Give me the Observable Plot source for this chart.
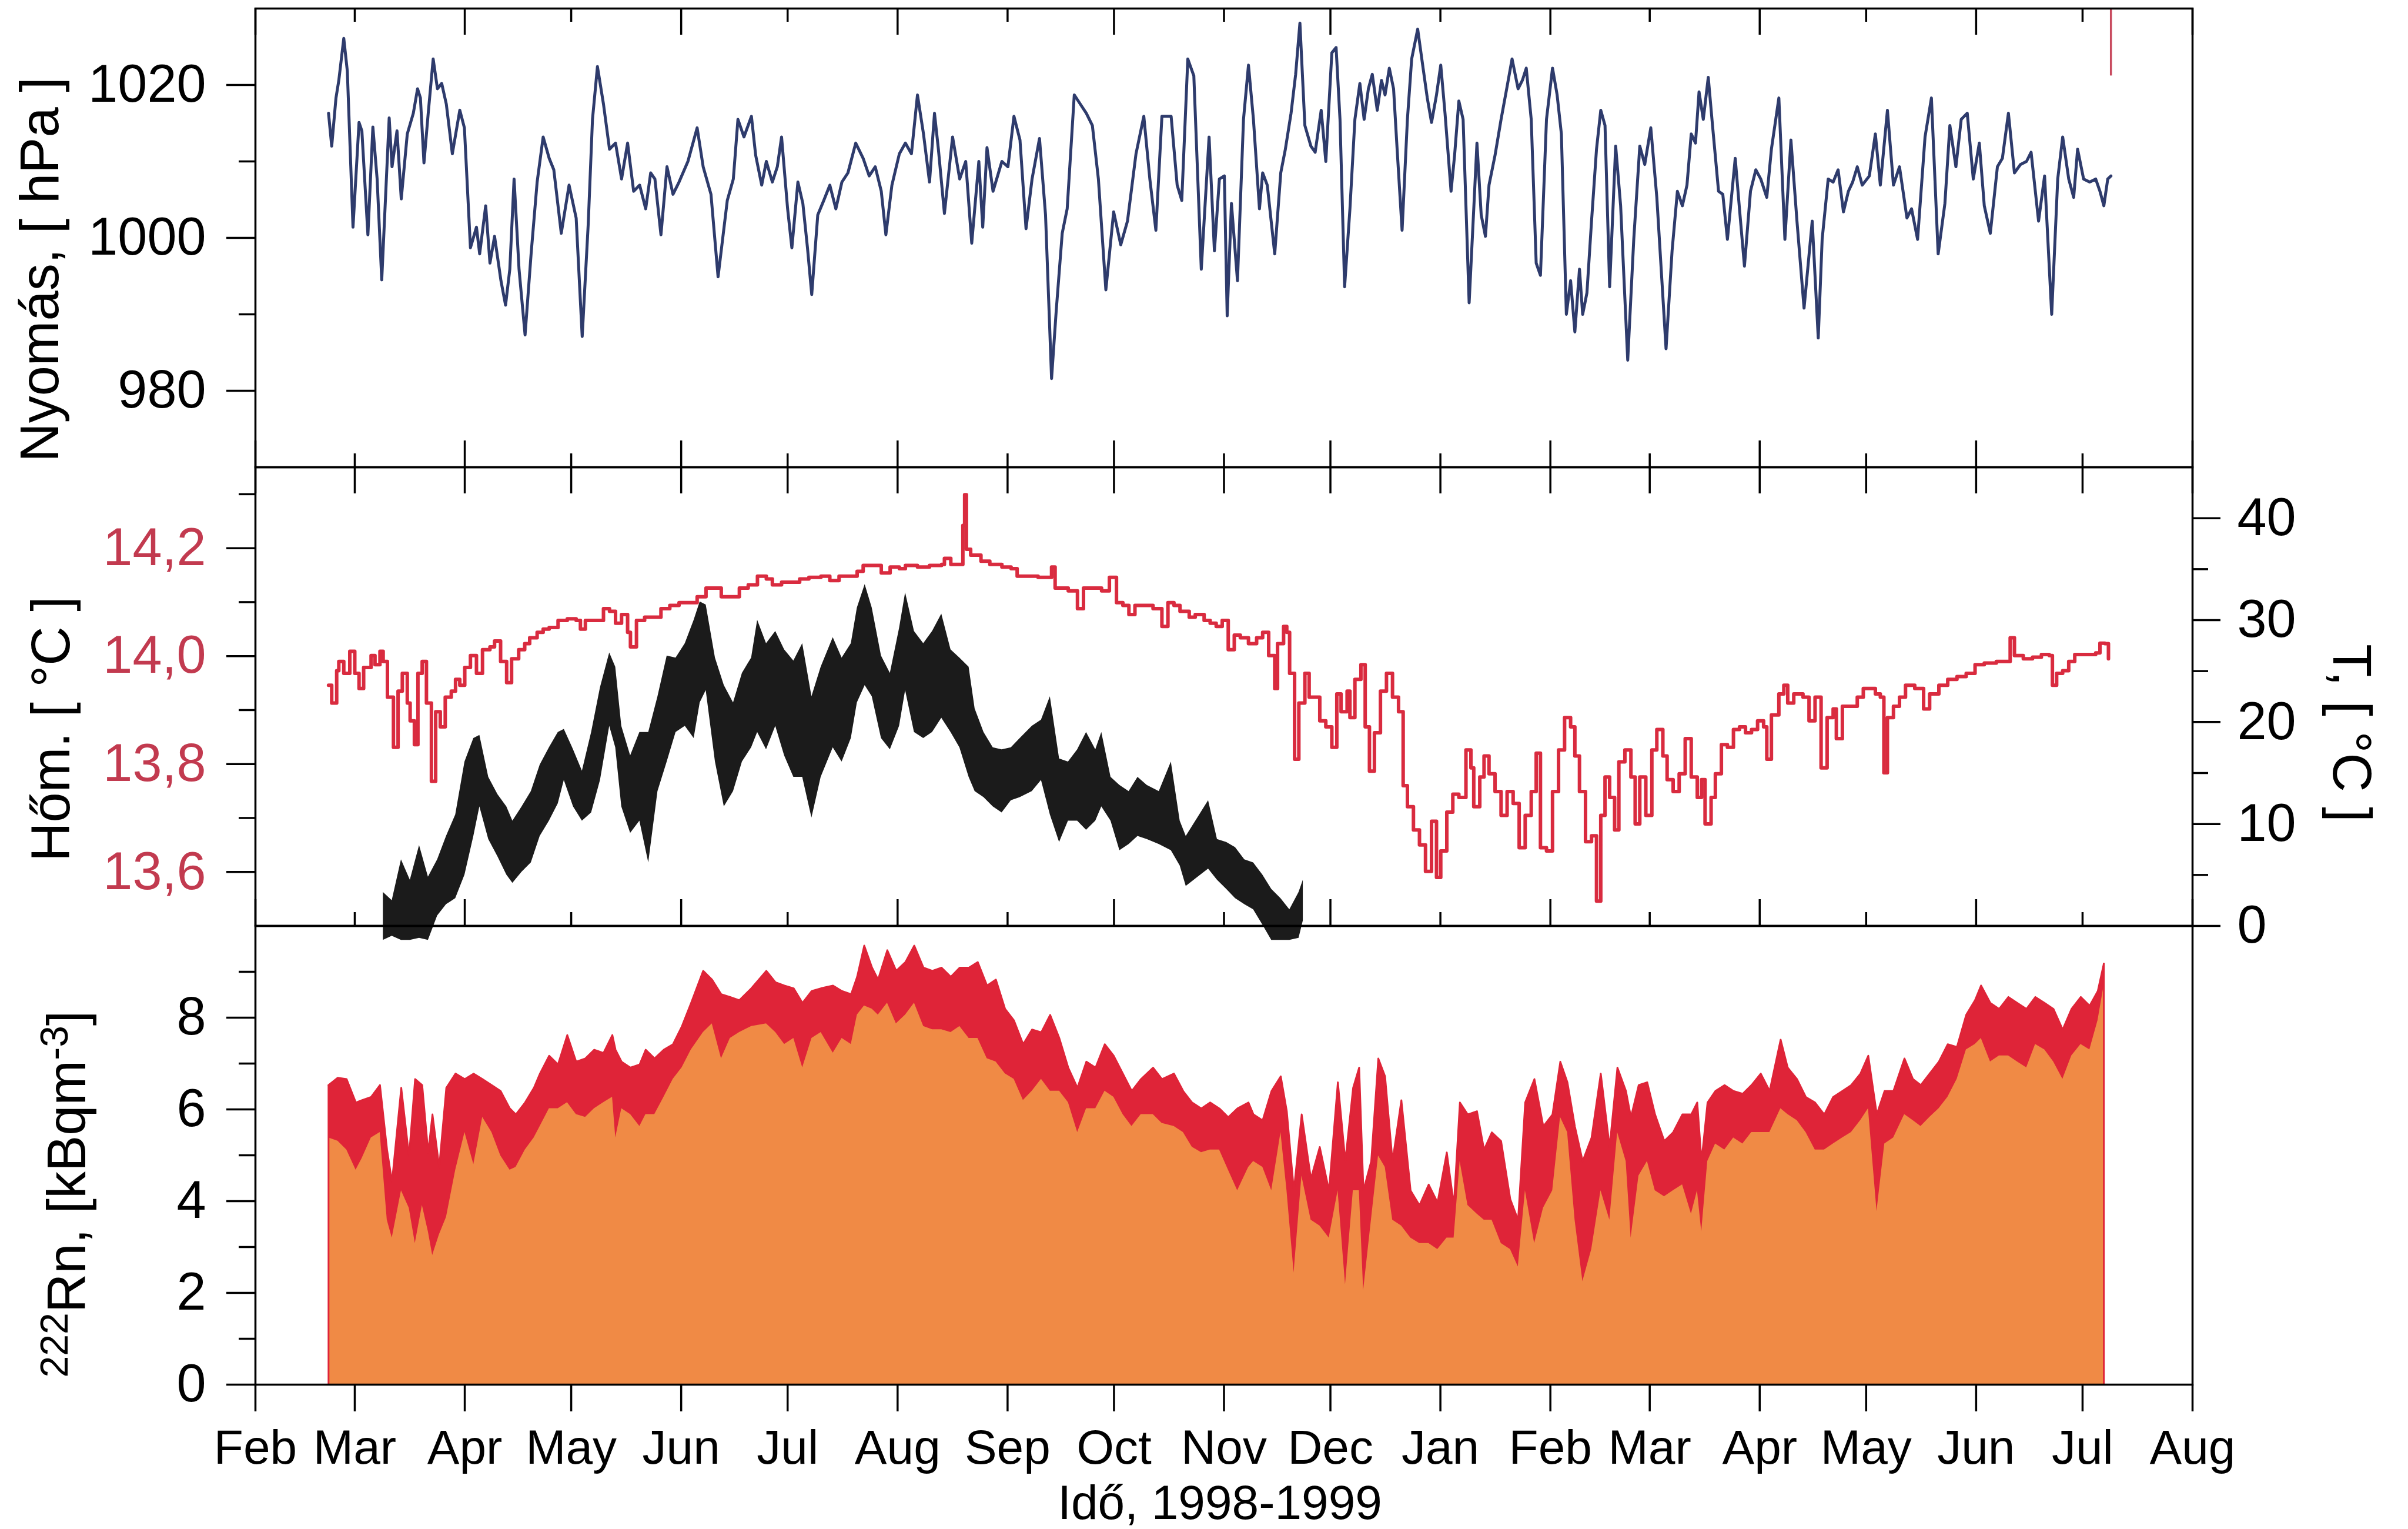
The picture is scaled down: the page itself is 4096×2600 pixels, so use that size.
<!DOCTYPE html>
<html><head><meta charset="utf-8">
<script src="https://cdn.jsdelivr.net/npm/d3@7"></script>
<script src="https://cdn.jsdelivr.net/npm/@observablehq/plot@0.6"></script>
<style>
html,body{margin:0;padding:0;background:#fff;}
#chart{position:relative;width:4096px;height:2600px;overflow:hidden;}
#chart svg{position:absolute;left:0;overflow:visible;}
</style></head><body><div id="chart"></div>
<script>
// ---- time base: day offsets from 1 Feb 1998 ----
const startDate = Date.UTC(1998, 1, 1);
const xStart = new Date(Date.UTC(1998, 1, 1));
const xEnd = new Date(Date.UTC(1999, 7, 1));

// ---- Pressure (Nyomás, hPa) ----
const presDay = [20.6,21.5,22.7,23.5,24.9,25.9,27.5,29.2,30.0,31.7,33.1,34.3,35.6,37.7,38.5,39.9,41.1,42.8,44.5,45.7,46.5,47.5,48.7,50.1,51.3,52.5,53.8,55.5,57.6,58.9,60.6,62.3,63.2,64.9,66.1,67.4,69.2,70.5,71.7,72.9,74.3,76.0,77.7,79.4,81.1,82.8,84.1,86.2,88.4,90.4,92.1,93.8,95.0,96.4,98.1,99.8,101.5,103.2,104.9,106.6,108.3,110.0,111.4,112.6,114.3,116.0,117.7,119.4,121.9,124.5,126.2,128.4,130.4,133.0,134.7,136.0,137.7,139.8,141.0,142.7,144.0,145.7,147.1,148.3,150.0,151.2,152.9,154.3,155.6,156.8,158.5,160.2,161.9,163.6,165.3,167.0,169.2,171.3,173.0,174.7,176.4,177.7,179.4,181.5,183.2,184.9,186.6,188.3,190.0,191.4,192.5,194.2,196.5,198.5,200.2,201.9,203.9,205.0,206.2,207.9,210.4,212.1,213.8,215.5,217.2,218.9,221.0,222.7,224.4,225.7,227.4,228.8,230.8,232.5,234.2,235.9,237.6,239.7,241.9,243.9,245.8,248.2,250.4,252.1,253.8,255.5,258.1,259.8,261.1,262.8,264.5,266.6,268.8,270.3,271.7,273.1,273.9,275.1,276.8,278.5,279.9,
281.3,283.0,283.9,285.2,287.3,289.0,290.3,291.9,293.2,294.4,295.8,297.5,298.7,300.4,301.7,303.4,304.6,305.7,307.0,308.5,309.9,311.3,312.5,313.7,314.8,316.2,317.4,318.4,319.6,320.8,321.8,323.2,324.7,325.9,327.6,329.0,330.3,331.5,332.9,334.1,335.3,337.0,338.0,339.2,340.4,342.1,343.4,344.3,345.5,346.7,347.7,349.4,351.1,352.8,354.2,355.9,357.1,358.2,359.6,361.0,362.2,363.9,365.6,366.9,368.1,369.5,370.7,371.9,373.2,374.1,375.3,376.6,378.0,379.2,380.4,381.7,383.4,384.8,386.8,388.5,390.2,391.6,393.3,395.0,397.6,399.3,400.8,402.2,403.5,404.7,405.9,406.9,408.1,409.5,410.7,412.4,413.6,414.9,417.1,418.3,419.7,421.4,422.9,424.3,426.0,427.3,429.4,431.1,432.8,434.5,436.5,438.8,440.5,441.6,443.3,444.7,446.1,447.6,449.0,450.2,451.5,452.9,454.9,456.6,458.0,460.0,461.7,463.4,465.5,466.8,468.5,470.6,472.4,474.3,476.2,477.6,479.3,480.8,482.5,484.2,485.9,487.3,489.0,491.0,492.4,494.1,495.8,497.5,499.2,500.5,502.6,504.3,506.3,508.0,509.4,511.1,512.5,513.6,515.3,517.0,518.7,519.9,521.0,522.1,523.0];
const presVal = [1016.3,1012.0,1018.3,1020.6,1026.1,1021.8,1001.4,1015.1,1014.0,1000.4,1014.5,1007.7,994.5,1015.7,1009.3,1014.0,1005.1,1013.6,1016.3,1019.5,1018.3,1009.8,1016.3,1023.4,1019.5,1020.2,1017.5,1011.0,1016.7,1014.4,998.7,1001.4,997.9,1004.2,996.7,1000.2,994.4,991.2,995.9,1007.7,995.9,987.3,997.9,1007.3,1013.2,1010.4,1008.9,1000.6,1006.9,1002.6,987.1,1001.8,1015.5,1022.4,1017.5,1011.6,1012.4,1007.7,1012.4,1006.1,1006.9,1003.8,1008.5,1007.7,1000.4,1009.3,1005.7,1007.3,1010.0,1014.4,1009.3,1005.7,994.9,1004.9,1007.7,1015.5,1013.2,1015.9,1010.8,1006.9,1010.0,1007.3,1009.3,1013.2,1003.8,998.7,1007.3,1004.5,998.7,992.6,1003.0,1004.9,1006.9,1003.8,1007.3,1008.5,1012.4,1010.4,1008.1,1009.3,1006.1,1000.4,1006.9,1011.0,1012.4,1011.0,1018.7,1013.6,1007.3,1016.3,1011.6,1003.2,1013.2,1007.7,1010.0,999.3,1010.0,1001.4,1011.8,1006.1,1010.0,1009.3,1015.9,1012.8,1001.2,1007.7,1013.0,1003.0,981.6,990.4,1000.6,1003.8,1018.7,1017.5,1016.3,1014.7,1007.7,993.2,1003.4,999.1,1002.2,1011.0,1015.9,1007.7,1001.0,1015.9,1015.9,1006.9,1004.9,1023.4,1021.2,995.9,1013.2,998.3,1007.7,1008.1,989.8,1004.5,994.4,1015.5,1022.6,
1015.5,1003.8,1008.5,1006.9,997.9,1008.5,1011.6,1016.3,1021.4,1028.1,1014.7,1012.0,1011.2,1016.7,1010.0,1024.2,1024.9,1015.5,993.6,1003.8,1015.5,1020.2,1015.5,1019.5,1021.4,1016.7,1020.6,1018.7,1022.2,1019.5,1011.6,1001.0,1015.5,1023.4,1027.3,1022.6,1018.3,1015.1,1018.7,1022.6,1016.3,1006.1,1010.8,1017.9,1015.5,991.5,1003.8,1012.4,1003.0,1000.2,1006.9,1010.8,1015.5,1019.8,1023.4,1019.5,1020.6,1022.2,1015.5,996.7,995.1,1015.5,1022.2,1018.7,1013.6,990.0,994.4,987.7,995.9,990.0,992.8,1002.2,1011.6,1016.7,1014.7,993.6,1012.0,1004.2,984.0,999.8,1012.0,1009.6,1014.4,1005.3,985.5,998.3,1006.1,1004.2,1006.9,1013.6,1012.4,1019.1,1015.5,1021.0,1014.7,1006.1,1005.7,999.8,1010.4,1003.8,996.3,1006.1,1008.9,1007.7,1005.3,1011.6,1018.3,999.8,1012.8,1002.2,990.8,1002.2,986.9,999.8,1007.7,1007.3,1008.9,1003.4,1006.1,1007.3,1009.3,1006.9,1008.1,1013.6,1006.9,1016.7,1006.9,1009.3,1002.6,1003.8,999.8,1013.2,1018.3,997.9,1004.5,1014.7,1009.3,1015.5,1016.3,1007.7,1012.4,1004.2,1000.6,1009.3,1010.4,1016.3,1008.5,1009.6,1010.0,1011.2,1002.2,1008.1,990.0,1007.7,1013.2,1007.7,1005.3,1011.6,1007.7,1007.3,1007.7,1006.1,1004.2,1007.7,1008.1];
// short red trace at the top right of the pressure panel
const redSpikeDay = [523.0];
const redSpikeLow = [1021.2];
const redSpikeHigh = [1030];

// ---- Hőm. (left axis, °C) ----
const homDay = [20.6,21.5,22.9,23.5,24.9,26.6,28.0,29.2,30.5,32.6,33.7,35.1,36.0,37.2,38.9,40.2,41.4,42.8,43.6,44.8,45.8,47.0,48.2,49.6,50.8,52.1,53.5,55.2,56.4,57.6,59.0,60.6,62.3,64.0,66.1,67.4,69.1,70.8,72.2,74.2,75.9,77.3,79.4,81.1,82.8,85.3,87.9,90.4,91.6,93.0,95.5,98.1,99.8,101.5,103.2,104.9,105.7,107.4,109.7,111.7,114.3,116.8,119.4,121.9,124.5,127.0,129.6,131.3,133.8,136.4,138.9,141.5,144.0,145.7,148.3,150.8,153.4,156.0,159.4,161.9,164.5,167.0,169.6,171.3,174.7,176.4,178.9,181.5,183.2,186.6,190.0,193.4,194.2,196.0,198.5,199.4,199.9,200.4,201.6,202.8,204.5,207.0,210.4,213.0,214.7,217.2,220.6,223.7,224.4,225.4,227.1,229.1,231.7,233.4,236.0,238.5,240.7,242.7,244.5,246.2,247.9,250.4,253.0,255.5,257.2,258.9,260.6,263.2,264.9,267.4,269.1,270.8,272.5,274.2,275.9,277.6,279.9,
282.2,283.9,285.6,287.3,288.1,289.8,290.7,291.5,292.9,294.1,295.8,297.0,298.3,300.0,301.7,303.4,304.8,306.0,307.7,308.5,309.9,311.6,312.8,314.0,315.4,317.1,318.8,320.5,322.2,323.5,324.7,326.4,328.1,329.8,331.5,332.9,334.1,335.8,337.5,339.2,341.2,342.6,343.4,345.1,346.3,347.7,349.4,351.1,352.8,354.5,356.2,357.9,359.6,361.0,362.2,363.9,365.6,367.3,369.0,370.7,371.9,373.2,374.9,376.6,378.0,379.2,380.4,381.7,383.1,384.3,386.0,387.7,388.9,390.2,391.9,393.6,395.0,396.7,397.9,399.6,401.3,403.0,404.7,406.4,407.6,408.6,410.3,411.5,413.2,414.9,416.6,418.3,420.0,421.7,423.4,425.1,426.0,427.3,429.4,430.8,431.9,433.6,436.2,437.9,439.6,441.3,443.0,444.7,445.6,447.3,449.8,451.5,453.2,454.9,456.6,458.0,459.0,460.0,461.7,463.4,465.1,467.7,470.2,471.9,474.5,477.0,479.6,482.2,484.7,487.3,490.7,493.2,494.6,495.8,498.3,500.9,503.4,505.6,506.5,507.7,509.4,511.1,512.8,516.2,518.7,519.9,521.3,522.3];
const homVal = [13.946,13.913,13.973,13.990,13.968,14.009,13.968,13.940,13.979,14.001,13.984,14.009,13.990,13.924,13.831,13.935,13.968,13.913,13.880,13.836,13.968,13.990,13.913,13.768,13.897,13.869,13.924,13.935,13.957,13.946,13.979,14.001,13.968,14.012,14.017,14.028,13.990,13.951,13.995,14.012,14.023,14.034,14.044,14.050,14.053,14.066,14.069,14.066,14.050,14.066,14.066,14.088,14.083,14.061,14.077,14.044,14.017,14.066,14.072,14.072,14.088,14.094,14.099,14.099,14.110,14.126,14.126,14.110,14.110,14.126,14.132,14.148,14.143,14.132,14.137,14.137,14.143,14.146,14.148,14.140,14.148,14.148,14.157,14.168,14.168,14.154,14.165,14.162,14.168,14.165,14.168,14.170,14.181,14.170,14.170,14.242,14.299,14.198,14.187,14.187,14.176,14.170,14.165,14.162,14.148,14.148,14.146,14.146,14.165,14.126,14.126,14.121,14.088,14.126,14.126,14.121,14.146,14.099,14.094,14.077,14.094,14.094,14.088,14.055,14.099,14.094,14.083,14.072,14.077,14.066,14.061,14.055,14.066,14.012,14.039,14.034,14.023,
14.034,14.044,14.001,13.940,14.023,14.055,14.044,13.968,13.809,13.913,13.968,13.924,13.924,13.880,13.869,13.831,13.930,13.897,13.935,13.886,13.957,13.984,13.869,13.787,13.858,13.935,13.968,13.924,13.897,13.760,13.721,13.678,13.650,13.601,13.694,13.590,13.639,13.711,13.744,13.738,13.826,13.793,13.721,13.776,13.815,13.782,13.749,13.705,13.749,13.727,13.645,13.705,13.749,13.820,13.645,13.639,13.749,13.826,13.886,13.869,13.815,13.749,13.656,13.667,13.546,13.705,13.776,13.738,13.678,13.804,13.826,13.776,13.689,13.776,13.705,13.826,13.864,13.815,13.771,13.749,13.782,13.847,13.776,13.738,13.771,13.689,13.738,13.782,13.836,13.831,13.864,13.869,13.858,13.864,13.880,13.869,13.809,13.891,13.930,13.946,13.913,13.930,13.924,13.880,13.924,13.793,13.886,13.902,13.847,13.907,13.907,13.924,13.940,13.940,13.930,13.924,13.784,13.886,13.907,13.924,13.946,13.940,13.902,13.930,13.946,13.957,13.962,13.968,13.984,13.987,13.990,13.990,14.034,14.001,13.995,13.998,14.003,14.001,13.946,13.968,13.973,13.990,14.003,14.003,14.006,14.024,14.023,13.995];

// ---- T (right axis, °C): daily low / high envelope of the black trace ----
const tDay = [36.0,38.5,41.1,43.6,46.2,48.7,51.3,53.8,56.4,59.0,61.5,63.2,65.7,68.3,70.8,72.5,75.1,77.7,80.2,82.8,85.3,87.0,89.6,92.1,94.7,97.2,99.8,101.5,103.2,105.7,108.3,110.8,113.4,116.0,118.5,121.1,123.6,125.3,127.0,129.6,132.1,134.7,137.2,139.8,141.5,144.0,146.6,149.1,151.7,154.2,156.8,159.4,162.8,165.3,167.9,169.6,171.8,173.8,176.4,178.9,181.5,183.2,185.7,188.3,190.8,193.4,196.0,198.5,201.1,202.8,205.3,207.9,210.4,213.0,215.5,218.9,221.5,224.0,226.6,229.1,231.7,234.2,236.8,238.5,241.1,243.6,246.2,248.7,251.3,254.7,258.1,260.6,262.3,268.6,271.1,273.7,276.2,278.8,281.3,283.9,286.4,289.0,291.5,294.1,295.3];
const tHigh = [3.3,2.5,6.5,4.5,7.9,4.8,6.5,8.8,10.9,16.1,18.4,18.7,14.6,12.9,11.7,10.3,11.7,13.2,15.8,17.5,19.0,19.3,17.3,15.2,19.0,23.4,26.8,25.4,19.6,16.7,19.0,19.0,22.5,26.5,26.3,27.7,30.0,31.8,31.5,26.3,23.6,21.9,24.8,26.3,30.0,27.7,28.9,27.1,26.0,27.7,22.5,25.4,28.3,26.3,27.7,31.2,33.5,31.2,26.5,24.8,29.2,32.7,28.9,27.7,28.9,30.6,27.1,26.3,25.4,21.3,19.0,17.5,17.3,17.5,18.4,19.6,20.2,22.5,16.4,16.1,17.3,19.0,17.3,19.0,14.6,13.8,13.2,14.6,13.8,13.2,16.1,10.3,8.8,12.3,8.5,8.2,7.7,6.5,6.2,5.0,3.6,2.7,1.6,3.3,4.5];
const tLow = [-1.4,-1.0,-1.4,-1.4,-1.2,-1.4,1.0,2.1,2.7,5.0,8.8,11.7,8.5,6.8,5.0,4.2,5.3,6.2,8.8,10.3,12.0,14.3,11.7,10.3,11.1,14.3,19.6,17.5,11.7,9.1,10.3,6.2,13.2,16.1,19.0,19.6,18.4,21.9,23.1,16.1,11.7,13.2,16.1,17.5,19.0,17.3,19.6,16.7,14.6,14.6,10.6,14.6,17.5,16.1,18.4,21.9,23.6,22.5,18.4,17.3,19.6,23.1,19.0,18.4,19.0,20.4,19.0,17.5,14.6,13.2,12.6,11.7,11.1,12.3,12.6,13.2,14.3,10.9,8.2,10.3,10.3,9.4,10.3,11.7,10.3,7.4,8.0,8.8,8.5,8.0,7.4,5.9,3.9,5.6,4.5,3.6,2.7,2.1,1.6,0.1,-1.4,-1.4,-1.4,-1.2,0.5];

// ---- 222Rn (kBq m-3): low / high envelope of the red trace ----
const rnDay = [20.6,23.2,25.7,28.3,30.0,32.6,35.1,37.1,38.5,41.1,43.3,45.0,47.0,48.7,49.9,51.8,53.8,56.4,59.0,61.5,64.0,66.6,69.1,71.7,73.4,76.0,78.5,80.2,82.8,85.3,87.9,90.4,93.0,95.5,98.1,100.6,101.5,103.2,105.7,108.3,110.0,112.5,115.1,117.7,120.2,122.8,126.2,128.7,131.3,133.8,136.4,139.8,144.0,146.6,149.1,151.7,154.2,156.8,159.4,162.8,165.3,167.9,169.6,171.6,173.8,175.5,178.1,180.6,183.2,185.7,188.3,190.8,193.4,196.0,198.5,201.1,203.6,206.2,208.7,211.3,213.8,216.4,218.9,221.5,224.0,226.6,229.1,231.7,234.2,236.8,239.4,241.9,244.5,247.0,249.6,253.0,255.5,258.9,261.5,264.0,266.6,269.1,271.7,274.2,276.8,279.9,
281.3,283.9,286.4,289.0,290.7,292.7,294.9,297.5,300.0,302.6,305.1,307.2,309.4,311.1,312.3,314.5,316.5,318.4,320.5,323.0,325.6,328.1,330.7,333.2,335.8,337.8,339.5,341.7,344.3,346.3,348.5,351.1,353.7,355.9,357.9,360.5,363.0,365.6,367.8,369.8,371.9,374.1,376.6,379.2,381.7,383.9,386.3,387.7,389.9,392.3,394.5,397.1,399.6,402.2,404.7,406.4,407.6,409.3,411.5,414.1,416.6,419.2,421.7,424.3,426.8,429.9,431.9,434.5,437.0,439.6,442.2,444.7,447.3,449.8,452.4,454.6,457.0,459.2,461.7,464.8,467.2,469.4,471.9,474.5,477.0,479.6,482.2,484.7,486.4,489.0,491.5,494.1,496.6,499.2,501.7,504.3,506.8,509.4,511.9,514.5,517.0,519.3,521.0];
const rnHigh = [6.53,6.69,6.66,6.15,6.2,6.27,6.53,5.12,4.42,6.47,4.98,6.66,6.53,5.06,5.89,4.74,6.47,6.78,6.66,6.78,6.66,6.53,6.4,6.02,5.89,6.15,6.47,6.78,7.17,6.98,7.62,7.04,7.11,7.3,7.23,7.62,7.3,7.04,6.91,6.98,7.3,7.11,7.3,7.42,7.81,8.32,9.02,8.83,8.51,8.45,8.38,8.64,9.02,8.77,8.7,8.64,8.32,8.58,8.64,8.7,8.58,8.51,8.89,9.57,9.09,8.83,9.47,9.02,9.21,9.57,9.09,9.02,9.09,8.89,9.09,9.09,9.21,8.7,8.83,8.19,7.94,7.42,7.74,7.68,8.06,7.55,6.91,6.47,7.04,6.91,7.42,7.17,6.78,6.4,6.66,6.91,6.66,6.78,6.4,6.15,6.02,6.15,6.02,5.83,6.02,6.15,
5.89,5.76,6.4,6.72,5.96,4.23,5.89,4.49,5.18,4.23,6.59,4.87,6.47,6.91,4.23,4.87,7.11,6.72,4.87,6.2,4.23,3.91,4.36,3.97,5.06,3.91,6.15,5.89,5.96,5.12,5.5,5.31,4.04,3.59,6.15,6.66,5.63,5.89,7.04,6.59,5.63,4.87,5.38,6.78,5.18,6.91,6.4,5.83,6.53,6.59,5.89,5.31,5.5,5.89,5.89,6.15,4.87,6.15,6.4,6.53,6.4,6.34,6.53,6.78,6.4,7.52,6.91,6.66,6.27,6.15,5.89,6.27,6.4,6.53,6.78,7.17,5.89,6.4,6.4,7.11,6.66,6.53,6.78,7.04,7.42,7.36,8.06,8.38,8.7,8.32,8.19,8.45,8.32,8.19,8.45,8.32,8.19,7.74,8.19,8.45,8.26,8.58,9.18];
const rnLow = [5.38,5.31,5.12,4.68,4.93,5.38,5.5,3.59,3.2,4.23,3.85,3.08,3.91,3.33,2.82,3.27,3.65,4.68,5.5,4.8,5.83,5.5,4.99,4.68,4.74,5.12,5.38,5.63,6.02,6.02,6.15,5.89,5.83,6.02,6.15,6.27,5.38,6.02,5.89,5.63,5.89,5.89,6.27,6.66,6.91,7.3,7.68,7.87,7.11,7.55,7.68,7.81,7.87,7.68,7.42,7.55,6.91,7.55,7.68,7.23,7.55,7.42,8.06,8.26,8.19,8.06,8.32,7.87,8.06,8.32,7.81,7.74,7.74,7.68,7.81,7.55,7.55,7.11,7.04,6.78,6.66,6.2,6.4,6.66,6.4,6.4,6.15,5.5,6.02,6.02,6.4,6.27,5.89,5.63,5.89,5.89,5.7,5.63,5.5,5.18,5.06,5.12,5.12,4.68,4.23,4.74,
4.87,4.74,4.23,5.5,4.23,2.44,4.55,3.59,3.46,3.2,4.23,2.18,4.23,4.23,2.05,3.59,4.99,4.74,3.59,3.46,3.2,3.08,3.08,2.95,3.2,3.2,4.87,3.91,3.72,3.59,3.59,3.08,2.95,2.57,4.23,3.08,3.85,4.23,5.83,5.5,3.59,2.25,2.95,4.23,3.59,5.5,4.87,3.2,4.55,4.87,4.23,4.1,4.23,4.36,3.72,4.23,3.33,4.87,5.25,5.12,5.38,5.25,5.5,5.5,5.5,6.02,5.89,5.76,5.5,5.12,5.12,5.25,5.38,5.5,5.76,6.02,3.78,5.25,5.38,5.89,5.76,5.63,5.83,6.02,6.27,6.66,7.3,7.42,7.55,7.04,7.17,7.17,7.04,6.91,7.42,7.3,7.04,6.66,7.17,7.42,7.3,7.94,8.7];

// ---- axis ticks & labels ----
const presMajor = [980, 1000, 1020], presMinor = [990, 1010];
const homMajor = [13.6, 13.8, 14.0, 14.2], homMinor = [13.7, 13.9, 14.1, 14.3];
const tMajor = [0, 10, 20, 30, 40], tMinor = [5, 15, 25, 35];
const rnMajor = [0, 2, 4, 6, 8], rnMinor = [1, 3, 5, 7, 9];
const labelPres = "Nyomás, [ hPa ]";
const labelHom = "Hőm. [ °C ]";
const labelT = "T, [ °C ]";
const labelRn = "222Rn, [kBqm-3]";
const labelX = "Idő, 1998-1999";

// ---- build tables ----
const toDate = d => new Date(startDate + d * 864e5);
const pres = presDay.map((d, i) => ({date: toDate(d), v: presVal[i]}));
const spike = redSpikeDay.map((d, i) => ({date: toDate(d), lo: redSpikeLow[i], hi: redSpikeHigh[i]}));
const hom = homDay.map((d, i) => ({date: toDate(d), v: homVal[i]}));
const tband = tDay.map((d, i) => ({date: toDate(d), lo: tLow[i], hi: tHigh[i]}));
const rn = rnDay.map((d, i) => ({date: toDate(d), lo: rnLow[i], hi: rnHigh[i]}));
const rnEdges = [rn[0], rn[rn.length - 1]];
const months = d3.utcMonth.range(xStart, d3.utcDay.offset(xEnd, 1));
const longM = months.filter((d, i) => i % 2 === 0);
const shortM = months.filter((d, i) => i % 2 === 1);

// ---- layout ----
const W = 4096, ML = 434, MR = 367, PH = 780;
const FONT = "'Liberation Sans', Arial, Helvetica, sans-serif";
const FS = 90, MFS = 82, TFS = 92, SW = 3.5;
const LONG = 45, SHORT = 23;
const NAVY = "#2e3b6c", RED = "#d92b3f", LABRED = "#c23a4f", ORANGE = "#f08a45", RNRED = "#df2438", BLACK = "#1b1b1b";
const plainFmt = v => String(v);
const commaFmt = v => v.toFixed(1).replace(".", ",");
const blank = () => "";
const base = (h, mt, mb) => ({
  width: W, height: h, marginLeft: ML, marginRight: MR, marginTop: mt, marginBottom: mb,
  style: {background: "transparent", overflow: "visible", fontFamily: FONT, color: "#000"}
});
const xs = {type: "utc", domain: [xStart, xEnd], axis: null, label: null};
const chart = document.getElementById("chart");
function place(svg, top) { svg.style.position = "absolute"; svg.style.left = "0px"; svg.style.top = top + "px"; chart.appendChild(svg); return svg; }

// Panel 1: pressure
const p1 = Plot.plot({
  ...base(14 + PH, 14, 0),
  x: xs,
  y: {domain: [970, 1030], axis: null, label: null},
  marks: [
    Plot.line(pres, {x: "date", y: "v", stroke: NAVY, strokeWidth: 5, strokeLinejoin: "round"}),
    Plot.ruleX(spike, {x: "date", y1: "lo", y2: "hi", stroke: "#c84a5e", strokeWidth: 3.5}),
    Plot.tickX(longM, {x: d => d, insetBottom: PH - LONG, strokeWidth: SW}),
    Plot.tickX(shortM, {x: d => d, insetBottom: PH - SHORT, strokeWidth: SW}),
    Plot.tickX(longM, {x: d => d, insetTop: PH - LONG, strokeWidth: SW}),
    Plot.tickX(shortM, {x: d => d, insetTop: PH - SHORT, strokeWidth: SW}),
    Plot.axisY(presMajor, {anchor: "left", tickSize: 49, tickPadding: 35, tickFormat: plainFmt, strokeWidth: SW, fontSize: FS, label: null}),
    Plot.axisY(presMinor, {anchor: "left", tickSize: 28, tickFormat: blank, strokeWidth: SW, label: null}),
    Plot.text([labelPres], {frameAnchor: "left", rotate: -90, dx: -336, dy: 54, fontSize: TFS, lineAnchor: "bottom", textAnchor: "middle", fill: "#000"}),
    Plot.frame({strokeWidth: SW})
  ]
});
place(p1, 0);

// Panel 2a: air temperature (black, right axis)
const p2b = Plot.plot({
  ...base(PH, 0, 0),
  x: xs,
  y: {domain: [0, 45], axis: null, label: null},
  marks: [
    Plot.areaY(tband, {x: "date", y1: "lo", y2: "hi", fill: BLACK}),
    Plot.axisY(tMajor, {anchor: "right", tickSize: 47, tickPadding: 29, tickFormat: plainFmt, strokeWidth: SW, fontSize: FS, label: null}),
    Plot.axisY(tMinor, {anchor: "right", tickSize: 26, tickFormat: blank, strokeWidth: SW, label: null}),
    Plot.text([labelT], {frameAnchor: "right", rotate: 90, dx: 239, dy: 62, fontSize: TFS, lineAnchor: "bottom", textAnchor: "middle", fill: "#000"})
  ]
});
place(p2b, 14 + PH);

// Panel 2b: Hőm. (red, left axis)
const p2 = Plot.plot({
  ...base(PH, 0, 0),
  x: xs,
  y: {domain: [13.5, 14.35], axis: null, label: null},
  marks: [
    Plot.line(hom, {x: "date", y: "v", stroke: RED, strokeWidth: 6, curve: "step-after"}),
    Plot.tickX(months, {x: d => d, insetBottom: PH - LONG, strokeWidth: SW}),
    Plot.tickX(longM, {x: d => d, insetTop: PH - LONG, strokeWidth: SW}),
    Plot.tickX(shortM, {x: d => d, insetTop: PH - SHORT, strokeWidth: SW}),
    Plot.axisY(homMajor, {anchor: "left", tickSize: 49, tickFormat: blank, strokeWidth: SW, label: null}),
    Plot.axisY(homMajor, {anchor: "left", tickSize: 0, tickPadding: 84, tickFormat: commaFmt, fill: LABRED, fontSize: FS, label: null}),
    Plot.axisY(homMinor, {anchor: "left", tickSize: 28, tickFormat: blank, strokeWidth: SW, label: null}),
    Plot.text([labelHom], {frameAnchor: "left", rotate: -90, dx: -317, dy: 55, fontSize: TFS, lineAnchor: "bottom", textAnchor: "middle", fill: "#000"}),
    Plot.frame({strokeWidth: SW})
  ]
});
place(p2, 14 + PH);

// Panel 3: radon
const p3 = Plot.plot({
  ...base(2600 - (14 + 2 * PH), 0, 2600 - (14 + 3 * PH)),
  x: {type: "utc", domain: [xStart, xEnd], label: null},
  y: {domain: [0, 10], axis: null, label: null},
  marks: [
    Plot.areaY(rn, {x: "date", y1: 0, y2: "hi", fill: RNRED}),
    Plot.areaY(rn, {x: "date", y1: 0, y2: "lo", fill: ORANGE}),
    Plot.line(rn, {x: "date", y: "hi", stroke: RNRED, strokeWidth: 3}),
    Plot.ruleX(rnEdges, {x: "date", y1: 0, y2: "hi", stroke: RNRED, strokeWidth: 3}),
    Plot.axisY(rnMajor, {anchor: "left", tickSize: 49, tickPadding: 35, tickFormat: plainFmt, strokeWidth: SW, fontSize: FS, label: null}),
    Plot.axisY(rnMinor, {anchor: "left", tickSize: 28, tickFormat: blank, strokeWidth: SW, label: null}),
    Plot.axisX(months, {anchor: "bottom", tickSize: 46, tickPadding: 30, tickFormat: d3.utcFormat("%b"), strokeWidth: SW, fontSize: MFS, label: null}),
    Plot.text([labelRn], {frameAnchor: "left", rotate: -90, dx: -290, dy: 66, fontSize: TFS, lineAnchor: "bottom", textAnchor: "middle", fill: "#000"}),
    Plot.text([labelX], {frameAnchor: "bottom", dx: -7, dy: 228, fontSize: 82, lineAnchor: "bottom", textAnchor: "middle", fill: "#000"}),
    Plot.frame({strokeWidth: SW})
  ]
});
place(p3, 14 + 2 * PH);

// superscripts in the radon label
d3.select(p3).selectAll("text").filter(function () { return this.textContent === labelRn; }).each(function () {
  const t = d3.select(this).text(null);
  t.append("tspan").attr("font-size", 66).attr("dy", -30).text("222");
  t.append("tspan").attr("font-size", TFS).attr("dy", 30).text("Rn, [kBqm");
  t.append("tspan").attr("font-size", 66).attr("dy", -30).text("-3");
  t.append("tspan").attr("font-size", TFS).attr("dy", 30).text("]");
});
</script></body></html>
